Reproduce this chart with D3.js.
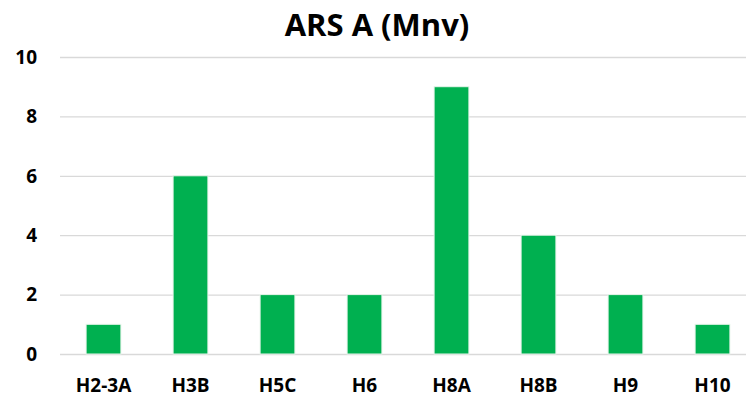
<!DOCTYPE html>
<html lang="en">
<head>
<meta charset="utf-8">
<title>ARS A (Mnv)</title>
<script src="https://cdn.jsdelivr.net/npm/d3@7"></script>
<style>
  body { margin: 0; background: #fff; }
  svg text { font-family: "Open Sans", Lato, sans-serif; font-weight: bold; fill: #000; }
</style>
</head>
<body>
<script>
// data
var categories = ["H2-3A", "H3B", "H5C", "H6", "H8A", "H8B", "H9", "H10"];
var values = [1, 6, 2, 2, 9, 4, 2, 1];
var yTicks = [0, 2, 4, 6, 8, 10];

var w = 746, h = 400;
var plotLeft = 60, plotRight = 756, plotTop = 57, plotBottom = 354;

var svg = d3.select("body").append("svg")
    .attr("width", w)
    .attr("height", h);

var x = d3.scaleBand()
    .domain(categories)
    .range([plotLeft, plotRight])
    .paddingInner(0.6)
    .paddingOuter(0.3);

var y = d3.scaleLinear()
    .domain([0, 10])
    .range([plotBottom, plotTop]);

// title
svg.append("text")
    .attr("x", 377)
    .attr("y", 36)
    .attr("text-anchor", "middle")
    .style("font-size", "31px")
    .text("ARS A (Mnv)");

// gridlines
var grid = svg.append("g")
    .attr("transform", "translate(" + plotLeft + ",0)")
    .call(d3.axisLeft(y).tickValues(yTicks).tickSize(-(w - plotLeft)).tickFormat(""));
grid.select(".domain").remove();
grid.selectAll("line").attr("stroke", "#d9d9d9").attr("stroke-width", 1.3);

// y labels
svg.selectAll("text.ylab")
    .data(yTicks)
    .enter()
    .append("text")
    .attr("class", "ylab")
    .attr("x", 37)
    .attr("y", function(d) { return y(d); })
    .attr("dy", "0.36em")
    .attr("text-anchor", "end")
    .style("font-size", "19px")
    .text(function(d) { return d; });

// bars
svg.selectAll("rect")
    .data(values)
    .enter()
    .append("rect")
    .attr("x", function(d, i) { return x(categories[i]); })
    .attr("y", function(d) { return y(d); })
    .attr("width", x.bandwidth())
    .attr("height", function(d) { return y(0) - y(d); })
    .attr("fill", "#00b050")
    .attr("stroke", "#e8f5ec")
    .attr("stroke-width", 1);

// x labels
svg.selectAll("text.xlab")
    .data(categories)
    .enter()
    .append("text")
    .attr("class", "xlab")
    .attr("x", function(d) { return x(d) + x.bandwidth() / 2; })
    .attr("y", 392)
    .attr("text-anchor", "middle")
    .style("font-size", "19px")
    .text(function(d) { return d; });
</script>
</body>
</html>
